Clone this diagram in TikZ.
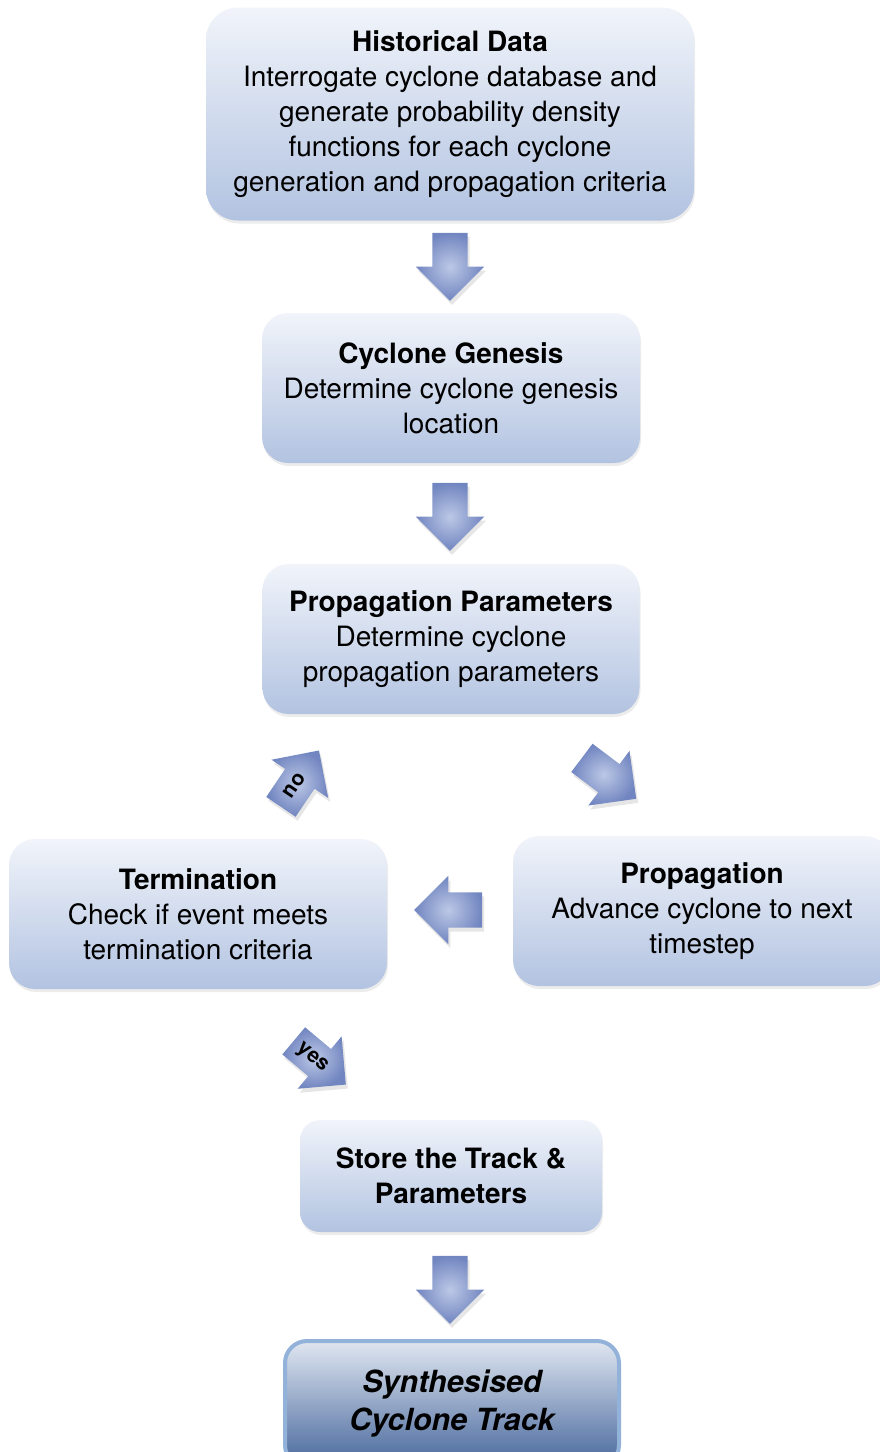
\documentclass[tikz,border=0pt]{standalone}
\usepackage{fontspec}
\setmainfont{TeX Gyre Heros}
\usetikzlibrary{shapes.arrows,shadows}
\definecolor{boxtop}{HTML}{F1F4FA}
\definecolor{boxbottom}{HTML}{B2C3E1}
\definecolor{arrowlight}{HTML}{BCC8E6}
\definecolor{arrowdark}{HTML}{7185C0}
\definecolor{trackrim}{HTML}{92B2DA}
\definecolor{trackbottom}{HTML}{46679B}
\begin{document}
\begin{tikzpicture}[x=1pt, y=-1pt,
		stepbox/.style = {rounded corners=26pt, top color=boxtop, bottom color=boxbottom, align=center,
			font=\fontsize{28}{35}\selectfont, drop shadow={opacity=.15, shadow xshift=1pt, shadow yshift=-3pt}},
		blockarrow/.style = {single arrow, single arrow head extend=16.5pt, minimum height=68pt,
			inner xsep=0pt, inner ysep=0pt, text height=22.5pt, text depth=12.5pt,
			inner color=arrowlight, outer color=arrowdark,
			drop shadow={opacity=.2, shadow xshift=2pt, shadow yshift=-4pt}, font=\fontsize{21}{21}\selectfont\bfseries}]
		\useasboundingbox (0,0) rectangle (879,1452);
		
		\node (hist) at (450,114) [stepbox, minimum width=488pt, minimum height=213pt, rounded corners=32pt]
			{\textbf{Historical Data}\\Interrogate cyclone database and\\generate probability density\\functions for each cyclone\\generation and propagation criteria};
		\node (gen) at (451,388) [stepbox, minimum width=378pt, minimum height=150pt]
			{\textbf{Cyclone Genesis}\\Determine cyclone genesis\\location};
		\node (para) at (451,639) [stepbox, minimum width=377pt, minimum height=150pt]
			{\textbf{Propagation Parameters}\\Determine cyclone\\propagation parameters};
		\node (term) at (198,914) [stepbox, minimum width=378pt, minimum height=150pt]
			{\textbf{Termination}\\Check if event meets\\termination criteria};
		\node (prop) at (702,911) [stepbox, minimum width=378pt, minimum height=150pt]
			{\textbf{Propagation}\\Advance cyclone to next\\timestep};
		\node (store) at (451,1176) [stepbox, minimum width=302pt, minimum height=112pt, rounded corners=20pt]
			{\textbf{Store the Track \&}\\\textbf{Parameters}};
		\node (track) at (452,1404) [stepbox, minimum width=334pt, minimum height=126pt, rounded corners=22pt,
			draw=trackrim, line width=4pt, top color=boxtop!90!trackbottom, bottom color=trackbottom,
			font=\fontsize{30.5}{38}\selectfont\bfseries\itshape]
			{Synthesised\\Cyclone Track};
		
		\node (a1) at (450,258) [blockarrow, rotate=-90] {};
		\node (a2) at (450,508) [blockarrow, rotate=-90] {};
		\node (a3) at (602,773) [blockarrow, rotate=-37] {};
		\node (a4) at (457,910) [blockarrow, rotate=180] {};
		\node (a5) at (295,786) [blockarrow, rotate=56] {no};
		\node (a6) at (313,1057) [blockarrow, rotate=-40] {yes};
		\node (a7) at (450,1281) [blockarrow, rotate=-90] {};
		\end{tikzpicture}
\end{document}
